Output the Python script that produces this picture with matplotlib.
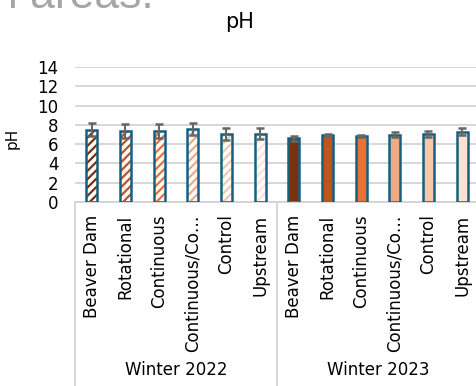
import matplotlib.pyplot as plt
from matplotlib.transforms import blended_transform_factory

plt.rcParams['font.family'] = ['DejaVu Sans']
plt.rcParams['hatch.linewidth'] = 1.6

sites = ['Beaver Dam', 'Rotational', 'Continuous', 'Continuous/Co…', 'Control', 'Upstream']
seasons = ['Winter 2022', 'Winter 2023']
ph_2022 = [7.5, 7.35, 7.35, 7.6, 7.05, 7.1]
err_2022 = [0.7, 0.7, 0.7, 0.6, 0.6, 0.55]
ph_2023 = [6.6, 6.95, 6.85, 7.0, 7.05, 7.3]
err_2023 = [0.25, 0.12, 0.1, 0.3, 0.3, 0.35]
site_colors = ['#7a3111', '#c0541a', '#e97132', '#f1a983', '#f7c7ac', '#fbe2d5']

edge_blue = '#156082'
grid_gray = '#d4d4d4'

fig = plt.figure(figsize=(4.77, 3.86), dpi=100)
ax = fig.add_axes([75 / 477, 184 / 386, 404 / 477, 135 / 386])

n = len(sites)
x22 = list(range(n))
x23 = [i + n for i in range(n)]
w = 0.32

# hatched 2022 bars (coloured stripes on white), solid 2023 bars
ax.bar(x22, ph_2022, width=w, color='white', edgecolor=site_colors,
       hatch='////', linewidth=0, zorder=2)
ax.bar(x23, ph_2023, width=w, color=site_colors, linewidth=0, zorder=2)
ax.bar(x22 + x23, ph_2022 + ph_2023, width=w, fill=False,
       edgecolor=edge_blue, linewidth=1.8, zorder=3)
ax.errorbar(x22 + x23, ph_2022 + ph_2023, yerr=err_2022 + err_2023, fmt='none',
            ecolor='#666666', elinewidth=1.5, capsize=3, capthick=1.8, zorder=4)

ax.set_xlim(-0.5, 2 * n - 0.5)
ax.set_ylim(0, 14)
ax.set_yticks(range(0, 15, 2))
ax.tick_params(axis='y', length=0, labelsize=12, pad=12)
ax.set_xticks(x22 + x23)
ax.set_xticklabels(sites + sites, rotation=90, fontsize=12)
ax.tick_params(axis='x', length=0, pad=9)
ax.yaxis.grid(True, color=grid_gray, linewidth=1.3)
ax.set_axisbelow(True)
for s in ['top', 'right', 'left']:
    ax.spines[s].set_visible(False)
ax.spines['bottom'].set_color(grid_gray)
ax.spines['bottom'].set_linewidth(1.3)

ax.set_ylabel('pH', fontsize=11)
ax.yaxis.set_label_coords(-0.138, 0.47)

# two-level category axis
trans = blended_transform_factory(ax.transData, fig.transFigure)
for xs in [-0.5, n - 0.5, 2 * n - 0.5]:
    ax.plot([xs, xs], [184 / 386, 0], color=grid_gray, linewidth=1.3,
            transform=trans, clip_on=False)
for i, season in enumerate(seasons):
    ax.text(i * n + (n - 1) / 2, 16 / 386, season, transform=trans,
            ha='center', va='center', fontsize=12)

fig.text(240 / 477, 1 - 28 / 386, 'pH', ha='center', va='baseline', fontsize=15)
fig.text(-7 / 477, 1 - 8 / 386, 'n areas:', ha='left', va='baseline',
         fontsize=32, color='#a6a6a6', family='Liberation Sans')

fig.savefig('out.png', dpi=100)
